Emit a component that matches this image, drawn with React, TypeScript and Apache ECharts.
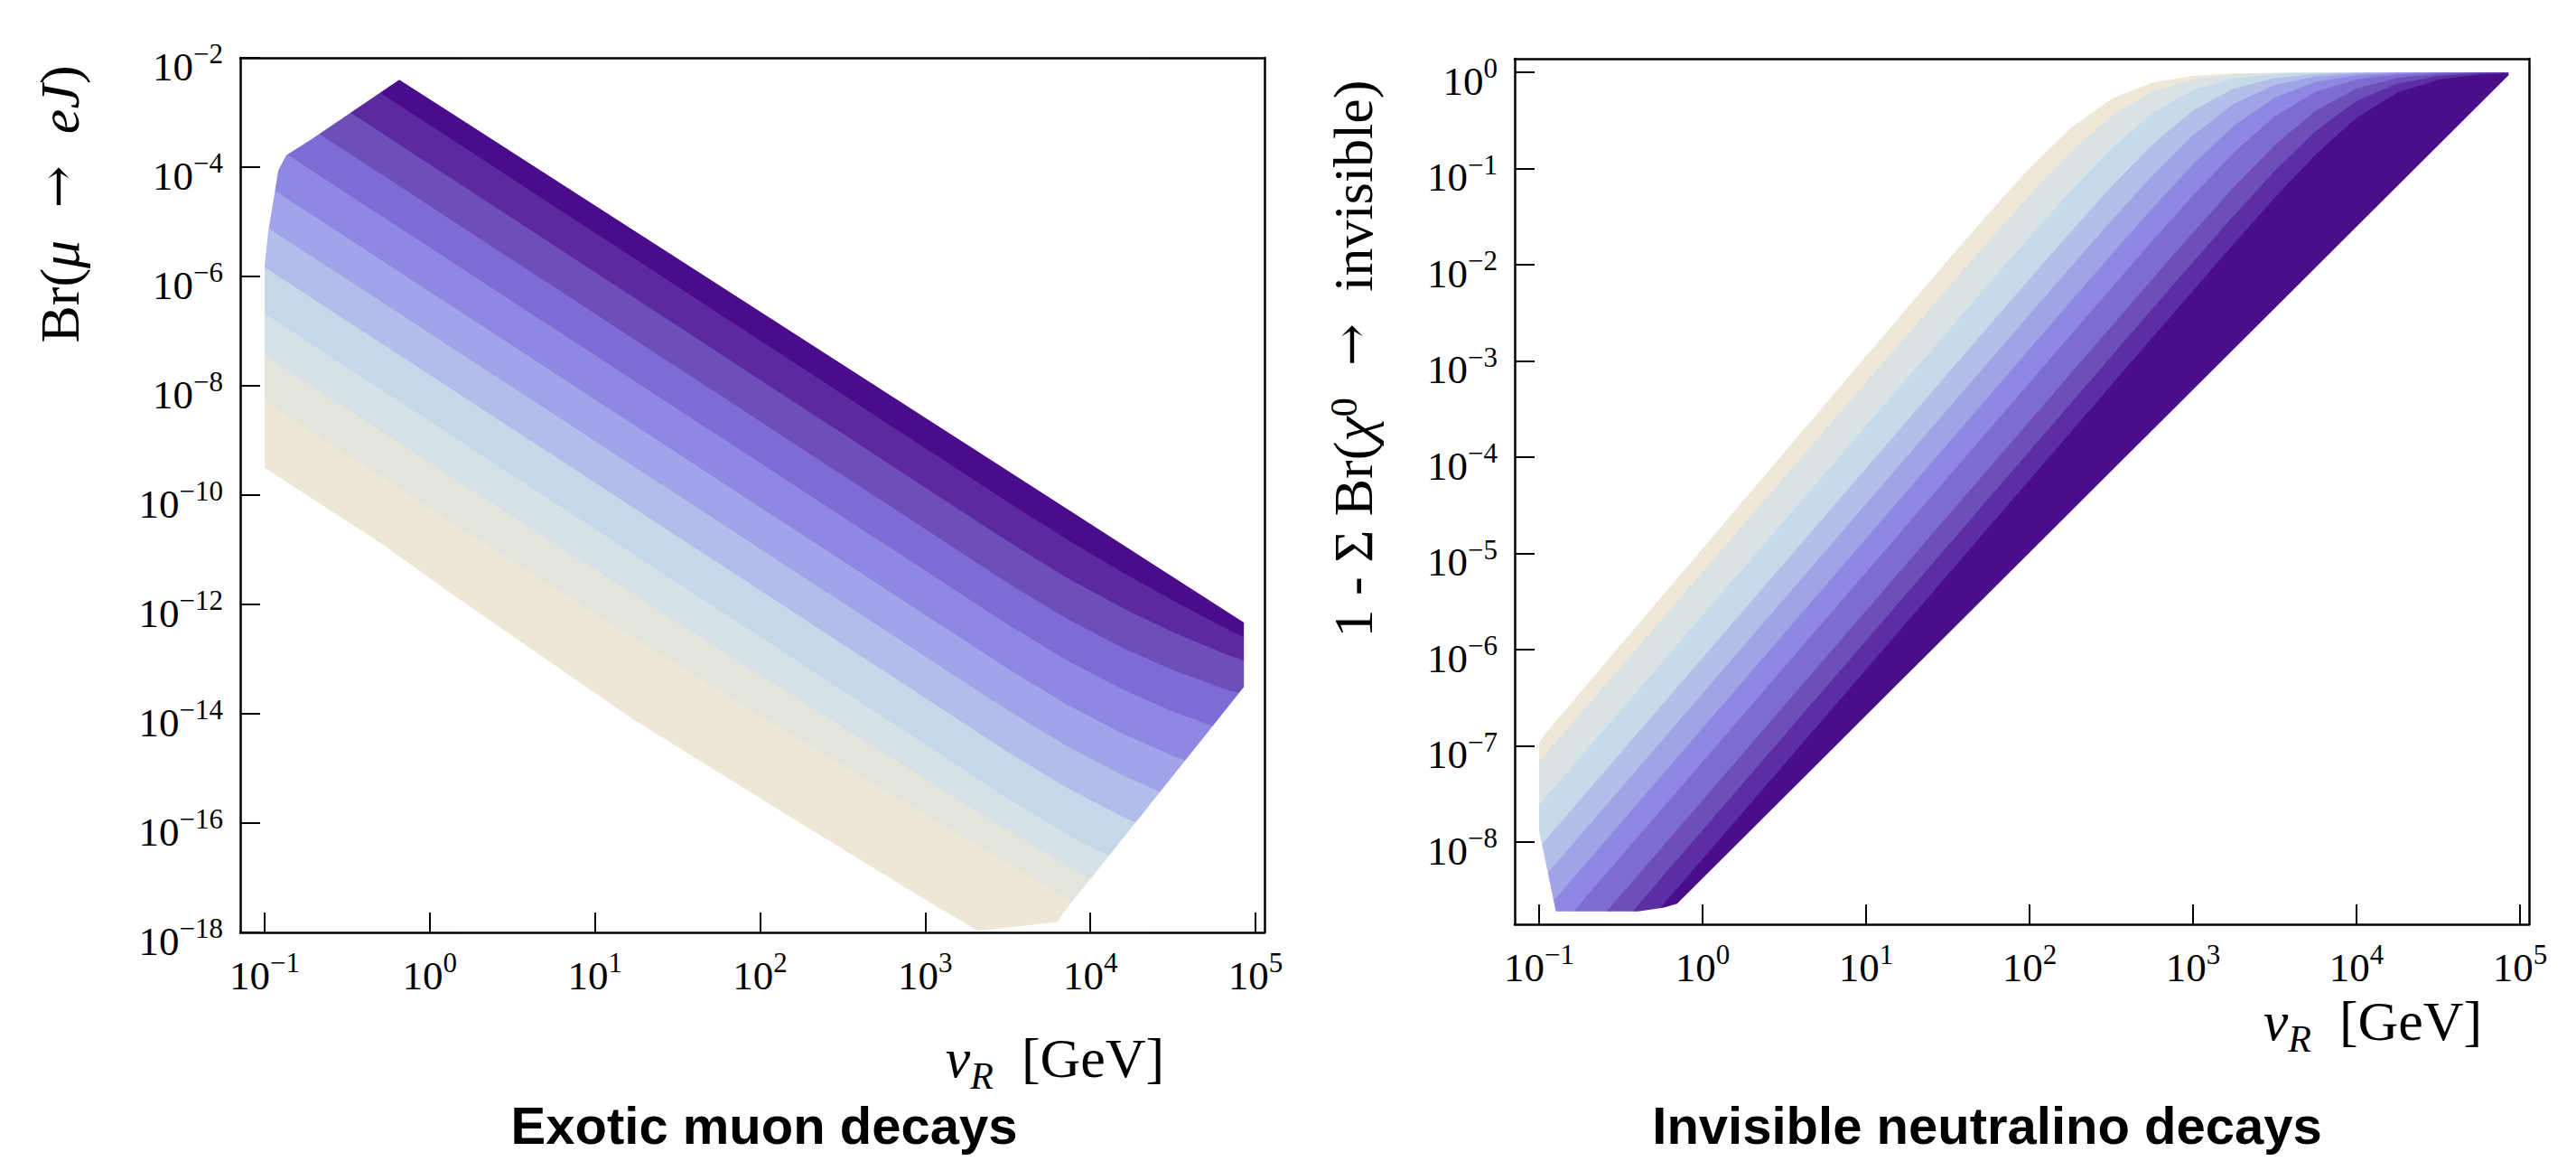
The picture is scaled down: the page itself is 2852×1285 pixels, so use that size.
import React, { useEffect, useRef } from 'react';
import * as echarts from 'echarts';

const SERIF = 'Liberation Serif';
const SANS = 'Liberation Sans';

// ---------------- axis ranges & ticks ----------------
const muonXRange = [0.07112, 113500];
const muonYRange = [1e-18, 1e-2];
const chiXRange = [0.07096, 113500];
const chiYRange = [1.4e-9, 1.384];

const xTickValues = [0.1, 1, 10, 100, 1000, 10000, 100000];
const muonYTickValues = [1e-18, 1e-16, 1e-14, 1e-12, 1e-10, 1e-8, 1e-6, 1e-4, 1e-2];
const chiYTickValues = [1e-8, 1e-7, 1e-6, 1e-5, 1e-4, 1e-3, 1e-2, 1e-1, 1];

// ---------------- left: Br(mu -> eJ) ----------------
const muonX = [0.0501, 1, 10, 100, 1000, 3162, 7079, 15849, 31623, 63096, 125893];
const muonB1 = [0.2094, 5.754e-4, 6.166e-6, 6.607e-8, 7.079e-10, 7.328e-11, 1.57e-11, 3.69e-12, 1.151e-12, 3.837e-13, 1.374e-13];
const muonB2 = [0.0399, 1.096e-4, 1.175e-6, 1.259e-8, 1.349e-10, 1.396e-11, 3.112e-12, 8.26e-13, 3.041e-13, 1.271e-13, 6.039e-14];
const muonB3 = [6.934e-3, 1.905e-5, 2.042e-7, 2.188e-9, 2.344e-11, 2.427e-12, 5.521e-13, 1.549e-13, 6.18e-14, 2.877e-14, 1.57e-14];
const muonB4 = [1.205e-3, 3.311e-6, 3.548e-8, 3.802e-10, 4.074e-12, 4.217e-13, 9.594e-14, 2.692e-14, 1.074e-14, 5.0e-15, 2.729e-15];
const muonB5 = [1.866e-4, 5.129e-7, 5.495e-9, 5.888e-11, 6.31e-13, 6.531e-14, 1.486e-14, 4.169e-15, 1.663e-15, 7.745e-16, 4.227e-16];
const muonB6 = [3.243e-5, 8.913e-8, 9.55e-10, 1.023e-11, 1.096e-13, 1.135e-14, 2.582e-15, 7.244e-16, 2.891e-16, 1.346e-16, 7.345e-17];
const muonB7 = [5.636e-6, 1.549e-8, 1.66e-10, 1.778e-12, 1.905e-14, 1.972e-15, 4.487e-16, 1.259e-16, 5.023e-17, 2.339e-17, 1.276e-17];
const muonB8 = [7.962e-7, 2.188e-9, 2.344e-11, 2.512e-13, 2.692e-15, 2.786e-16, 6.339e-17, 1.778e-17, 7.096e-18, 3.304e-18, 1.803e-18];
const muonB9 = [1.384e-7, 3.802e-10, 4.266e-12, 5.012e-14, 6.31e-16, 7.244e-17, 1.698e-17, 4.677e-18, 1.905e-18, 8.71e-19, 4.467e-19];
const muonB10 = [1.995e-8, 5.495e-11, 6.607e-13, 8.913e-15, 1.413e-16, 1.778e-17, 4.169e-18, 1.122e-18, 4.467e-19, 1.995e-19, 1e-19];
const muonBoundaries = [muonB1, muonB2, muonB3, muonB4, muonB5, muonB6, muonB7, muonB8, muonB9, muonB10];
const muonColors = ['#4b0c8b', '#5b2a9f', '#6e4fba', '#7e6bd3', '#8f88e3', '#a2a3e8', '#b3bde9', '#c4d8ea', '#d5e1e6', '#e3e5dd', '#efe7d6'];
// outline of the scanned region (counter-clockwise, starting at the top of the left edge)
const muonOutline = [
  [0.1, 1.622e-6], [0.1, 3.162e-10], [0.5012, 1.349e-11], [1.349, 1.585e-12], [16.98, 7.943e-15],
  [186.2, 8.913e-17], [1000, 3.981e-18], [2089, 1.072e-18], [6310, 1.549e-18], [6918, 2.344e-18],
  [85114, 3.09e-14], [85114, 4.677e-13], [0.6531, 3.981e-3],
  [0.1897, 3.162e-4], [0.1352, 1.66e-4], [0.1208, 8.71e-5], [0.1143, 3.09e-5], [0.105, 6.607e-6],
];

// ---------------- right: 1 - sum Br(chi0 -> invisible) ----------------
const chiX = [0.0501, 0.1, 1, 10, 31.62, 56.23, 100, 177.8, 316.2, 562.3, 1000, 1778, 3162, 5623, 10000, 17783, 31623, 56234, 125893];
const chiB1 = [1.734e-8, 6.761e-8, 6.31e-6, 5.888e-4, 5.655e-3, 0.01738, 0.05207, 0.1458, 0.3464, 0.6221, 0.8366, 0.9406, 0.9799, 0.9936, 0.998, 0.9994, 0.9998, 0.9999, 1.0];
const chiB2 = [6.15e-9, 2.399e-8, 2.239e-6, 2.089e-4, 2.014e-3, 6.233e-3, 0.01914, 0.05706, 0.1586, 0.3687, 0.6444, 0.8501, 0.9452, 0.9818, 0.994, 0.9982, 0.9995, 0.9999, 1.0];
const chiB3 = [2.234e-9, 8.71e-9, 8.128e-7, 7.586e-5, 7.32e-4, 2.272e-3, 7.03e-3, 0.02153, 0.06397, 0.1752, 0.3973, 0.6721, 0.8643, 0.951, 0.984, 0.9947, 0.9984, 0.9995, 0.9999];
const chiB4 = [9.53e-10, 3.715e-9, 3.467e-7, 3.236e-5, 3.126e-4, 9.69e-4, 3.011e-3, 9.297e-3, 0.02832, 0.0831, 0.2197, 0.4662, 0.7305, 0.8939, 0.9632, 0.9879, 0.9961, 0.9988, 0.9998];
const chiB5 = [4.159e-10, 1.622e-9, 1.514e-7, 1.413e-5, 1.365e-4, 4.236e-4, 1.316e-3, 4.08e-3, 0.01258, 0.03806, 0.1095, 0.2764, 0.5425, 0.7864, 0.9186, 0.9727, 0.9911, 0.997, 0.9993];
const chiB6 = [1.858e-10, 7.244e-10, 6.761e-8, 6.31e-6, 6.095e-5, 1.895e-4, 5.888e-4, 1.827e-3, 5.655e-3, 0.01738, 0.05207, 0.1458, 0.3464, 0.6221, 0.8366, 0.9406, 0.9799, 0.9936, 0.9986];
const chiB7 = [7.396e-11, 2.884e-10, 2.692e-8, 2.512e-6, 2.427e-5, 7.545e-5, 2.344e-4, 7.278e-4, 2.26e-3, 6.99e-3, 0.02141, 0.06366, 0.1744, 0.3964, 0.6713, 0.8638, 0.9517, 0.984, 0.9966];
const chiB8 = [3.622e-11, 1.413e-10, 1.318e-8, 1.23e-6, 1.189e-5, 3.694e-5, 1.148e-4, 3.556e-4, 1.108e-3, 3.436e-3, 0.0106, 0.03223, 0.0938, 0.2434, 0.5, 0.7565, 0.9063, 0.9678, 0.9933];
const chiB9 = [1.816e-11, 7.079e-11, 6.607e-9, 6.166e-7, 5.957e-6, 1.851e-5, 5.754e-5, 1.789e-4, 5.556e-4, 1.725e-3, 5.341e-3, 0.01641, 0.0493, 0.1389, 0.3339, 0.6091, 0.8288, 0.9376, 0.9865];
const chiBoundaries = [chiB1, chiB2, chiB3, chiB4, chiB5, chiB6, chiB7, chiB8, chiB9];
const chiColors = ['#efe7d8', '#d9e2e4', '#c6daea', '#b3bfe9', '#a1a3e7', '#8f88e2', '#7e6cd3', '#6d4fba', '#5c2ea4', '#4b0e8a'];
const chiOutline = [
  [0.1, 1.072e-7], [0.1, 1.318e-8], [0.1267, 1.905e-9], [0.4036, 1.905e-9], [0.5808, 2.089e-9],
  [0.6982, 2.291e-9], [85114, 0.9333], [85114, 0.9998], [31623, 0.9999], [10000, 0.9991],
  [5623, 0.9972], [3162, 0.9911], [1778, 0.9725], [1000, 0.9182], [562.3, 0.7805], [316.2, 0.5284],
  [177.8, 0.2618], [100, 0.1009], [56.23, 0.03428], [31.62, 0.01109], [10, 1.122e-3], [1, 1.122e-5],
  [0.1122, 1.413e-7],
];

// ---------------- helpers ----------------
function buildBands(xs: number[], boundaries: number[][], yTop: number, yBottom: number) {
  const lines = [xs.map(() => yTop), ...boundaries, xs.map(() => yBottom)];
  const polys: number[][][] = [];
  for (let k = 0; k < lines.length - 1; k++) {
    const up = xs.map((x, i) => [x, lines[k][i]]);
    const lo = xs.map((x, i) => [x, lines[k + 1][i]]).reverse();
    polys.push(up.concat(lo));
  }
  return polys;
}

function buildMask(outline: number[][], xr: number[], yr: number[]) {
  const y0 = outline[0][1];
  const x0 = xr[0] * 0.5, x1 = xr[1] * 2, yb = yr[0] * 0.1, yt = yr[1] * 10;
  return [[x0, y0], [x0, yt], [x1, yt], [x1, yb], [x0, yb], [x0, y0], ...outline, outline[0]];
}

const polySeries = (xi: number, yi: number, polys: number[][][], fills: string[], z: number, seam: boolean) => ({
  type: 'custom',
  xAxisIndex: xi,
  yAxisIndex: yi,
  clip: true,
  silent: true,
  z,
  data: polys.map(() => [1, 1e-5]),
  renderItem: (params: any, api: any) => {
    const i = params.dataIndex;
    return {
      type: 'polygon',
      shape: { points: polys[i].map((p) => api.coord(p)) },
      style: seam
        ? { fill: fills[i], stroke: fills[i], lineWidth: 1 }
        : { fill: fills[i], stroke: null, lineWidth: 0 },
    };
  },
});

const powLabel = (v: number) => {
  const e = Math.round(Math.log10(v));
  return `{b|10}{s|${e < 0 ? '\u2212' + -e : e}}`;
};

const tickRich = {
  b: { fontFamily: SERIF, fontSize: 45, color: '#000', lineHeight: 52, verticalAlign: 'bottom' },
  s: { fontFamily: SERIF, fontSize: 31, color: '#000', lineHeight: 30, verticalAlign: 'top' },
};

const AXIS_W = 2.5;

const logXAxis = (gridIndex: number, range: number[]) => ({
  type: 'log', gridIndex, position: 'bottom', min: range[0], max: range[1], logBase: 10, z: 10,
  axisLine: { show: true, onZero: false, lineStyle: { color: '#000', width: AXIS_W } },
  axisTick: { show: true, inside: true, length: 22, customValues: xTickValues, lineStyle: { color: '#000', width: 2 } },
  axisLabel: { show: true, customValues: xTickValues, formatter: powLabel, rich: tickRich, margin: 18 },
  splitLine: { show: false }, minorTick: { show: false }, minorSplitLine: { show: false },
});

const logYAxis = (gridIndex: number, range: number[], ticks: number[]) => ({
  type: 'log', gridIndex, position: 'left', min: range[0], max: range[1], logBase: 10, z: 10,
  axisLine: { show: true, onZero: false, lineStyle: { color: '#000', width: AXIS_W } },
  axisTick: { show: true, inside: true, length: 22, customValues: ticks, lineStyle: { color: '#000', width: 2 } },
  axisLabel: { show: true, customValues: ticks, formatter: powLabel, rich: tickRich, margin: 19, padding: [12, 0, 0, 0] },
  splitLine: { show: false }, minorTick: { show: false }, minorSplitLine: { show: false },
});

const frameAxis = (gridIndex: number, position: string) => ({
  type: 'value', gridIndex, position, min: 0, max: 1, z: 10,
  axisLine: { show: true, onZero: false, lineStyle: { color: '#000', width: AXIS_W } },
  axisTick: { show: false }, axisLabel: { show: false }, splitLine: { show: false },
});

const TF = 62;
const mathRich = {
  r: { fontFamily: SERIF, fontSize: TF, fill: '#000', color: '#000', lineHeight: 72, verticalAlign: 'top' },
  i: { fontFamily: SERIF, fontSize: TF, fontStyle: 'italic', fill: '#000', color: '#000', lineHeight: 72, verticalAlign: 'top' },
  a: { fontFamily: 'DejaVu Serif', fontSize: TF * 0.9, fill: '#000', color: '#000', lineHeight: 72, verticalAlign: 'top' },
  p: { fontFamily: SERIF, fontSize: 42, fill: '#000', color: '#000', lineHeight: 44, verticalAlign: 'top' },
  sb: { fontFamily: SERIF, fontSize: 42, fontStyle: 'italic', fill: '#000', color: '#000', lineHeight: 28, verticalAlign: 'bottom' },
};

const mathText = (x: number, y: number, text: string, rotation = 0) => ({
  type: 'text', x, y, rotation, silent: true,
  style: { text, rich: mathRich, align: 'center', verticalAlign: 'middle', textAlign: 'center', textVerticalAlign: 'middle' },
});

const titleText = (x: number, y: number, text: string) => ({
  type: 'text', x, y, silent: true,
  style: {
    text, fill: '#000', fontFamily: SANS, fontSize: 58, fontWeight: 'bold',
    font: `bold 58px "${SANS}"`, align: 'center', verticalAlign: 'middle', textAlign: 'center', textVerticalAlign: 'middle',
  },
});

const muonBands = buildBands(muonX, muonBoundaries, 1, 1e-20);
const muonMask = buildMask(muonOutline, muonXRange, muonYRange);
const chiBands = buildBands(chiX, chiBoundaries, 10, 1e-11);
const chiMask = buildMask(chiOutline, chiXRange, chiYRange);

const option = {
  animation: false,
  backgroundColor: '#ffffff',
  grid: [
    { left: 266, top: 64, width: 1134, height: 968, containLabel: false, outerBoundsMode: 'none' },
    { left: 1677, top: 65, width: 1123, height: 958, containLabel: false, outerBoundsMode: 'none' },
  ],
  xAxis: [
    logXAxis(0, muonXRange),
    frameAxis(0, 'top'),
    logXAxis(1, chiXRange),
    frameAxis(1, 'top'),
  ],
  yAxis: [
    logYAxis(0, muonYRange, muonYTickValues),
    frameAxis(0, 'right'),
    logYAxis(1, chiYRange, chiYTickValues),
    frameAxis(1, 'right'),
  ],
  series: [
    polySeries(0, 0, muonBands, muonColors, 1, true),
    polySeries(0, 0, [muonMask], ['#ffffff'], 2, false),
    polySeries(2, 2, chiBands, chiColors, 1, true),
    polySeries(2, 2, [chiMask], ['#ffffff'], 2, false),
  ],
  graphic: [
    mathText(71, 226, '{r|Br(}{i|\u03bc}{a|  \u2192  }{i|eJ}{r|)}', Math.PI / 2),
    mathText(1503, 397, '{r|1 - \u03a3 Br(}{i|\u03c7}{p|0}{a|  \u2192  }{r|invisible)}', Math.PI / 2),
    mathText(1168, 1176, '{i|v}{sb|R}{r|  [GeV]}'),
    mathText(2627, 1135, '{i|v}{sb|R}{r|  [GeV]}'),
    titleText(846, 1245, 'Exotic muon decays'),
    titleText(2200, 1245, 'Invisible neutralino decays'),
  ],
};

export default function App() {
  const ref = useRef<HTMLDivElement>(null);
  useEffect(() => {
    if (!ref.current) return;
    const chart = echarts.init(ref.current, null, { renderer: 'svg' });
    chart.setOption(option as any);
    return () => chart.dispose();
  }, []);
  return (
    <div
      ref={ref}
      style={{ position: 'absolute', left: 0, top: 0, width: 2852, height: 1285, background: '#fff' }}
    />
  );
}
